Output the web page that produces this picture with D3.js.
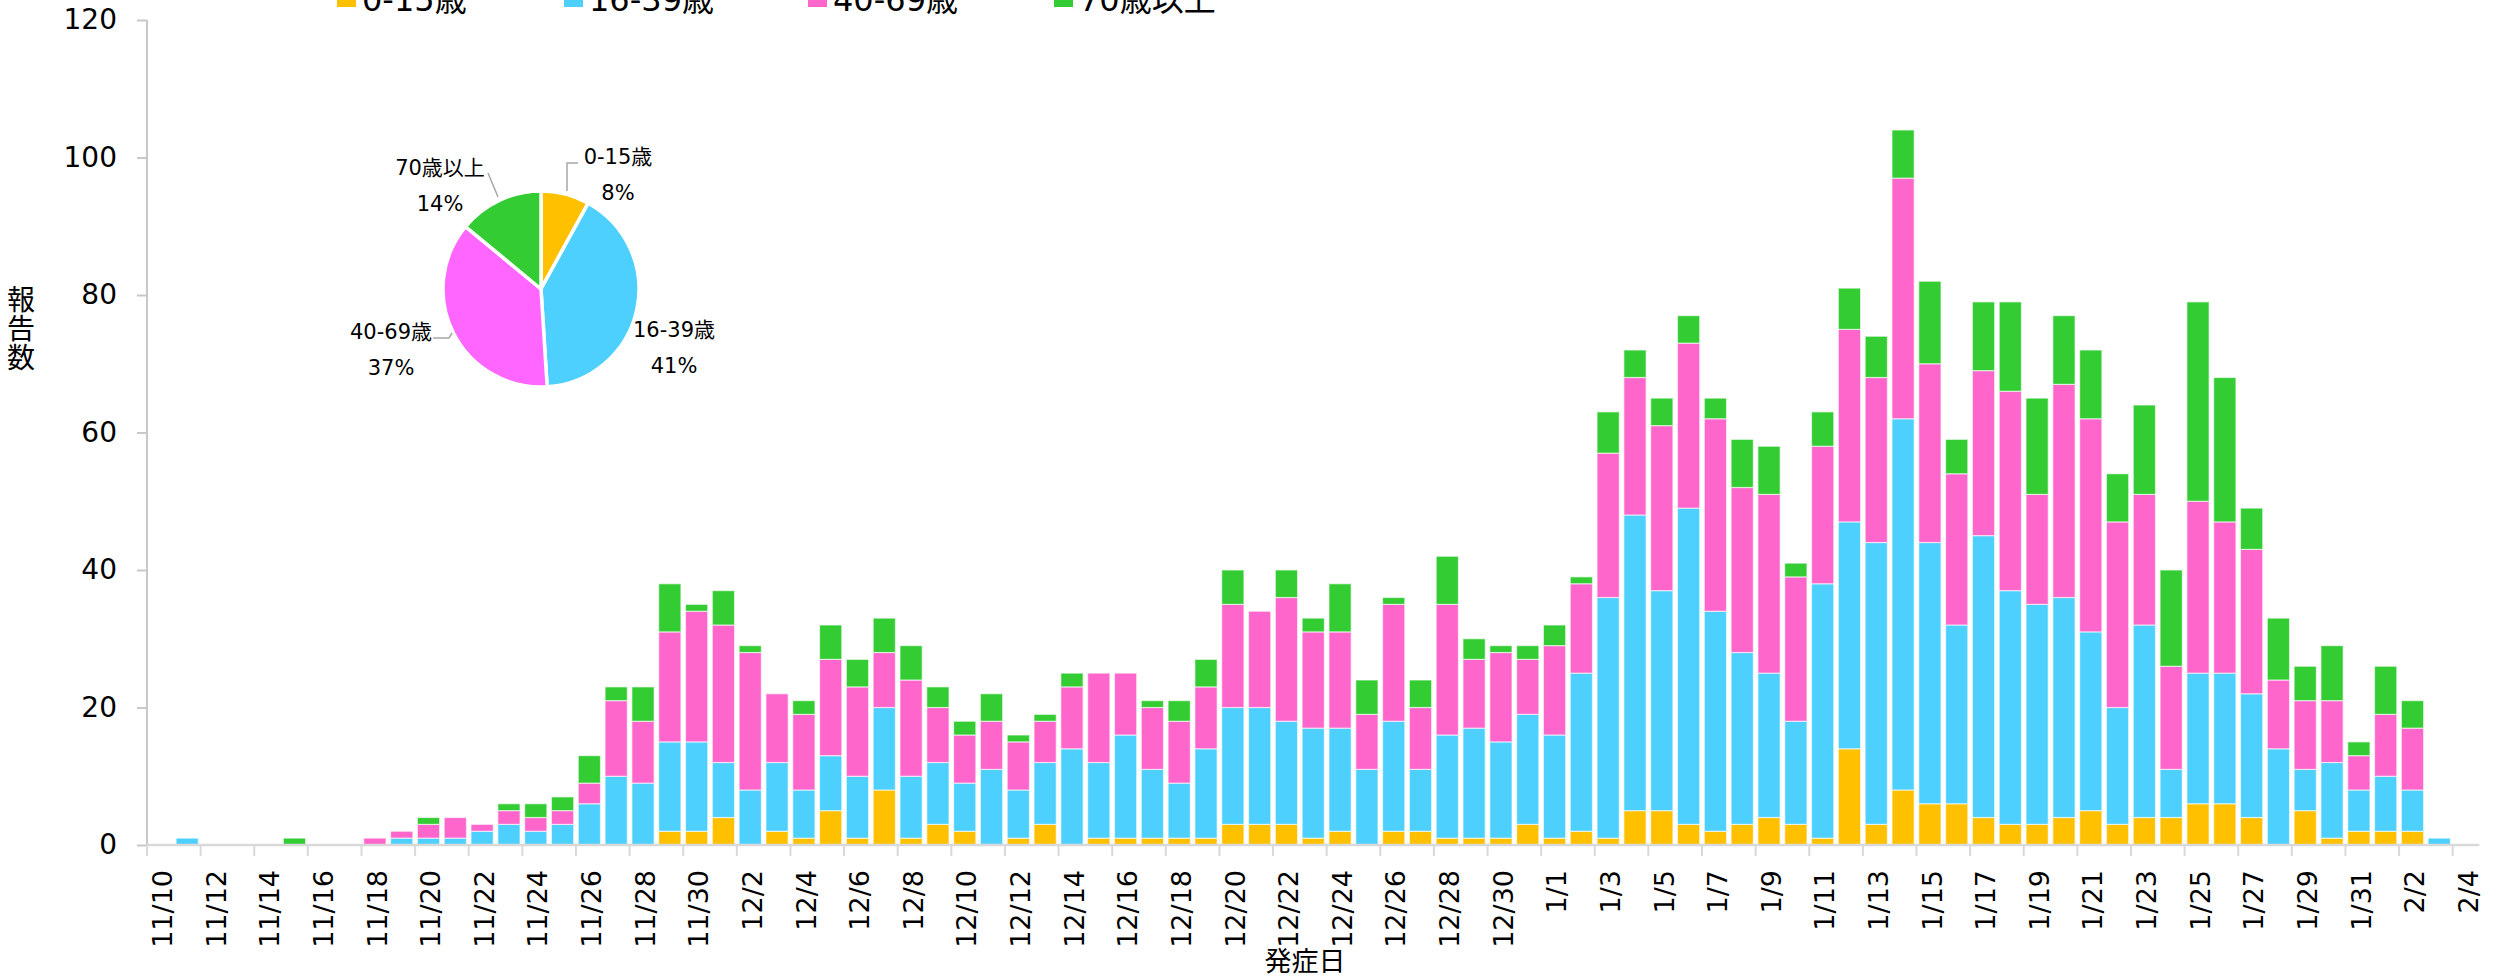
<!DOCTYPE html>
<html>
<head>
<meta charset="utf-8">
<script src="https://cdn.jsdelivr.net/npm/d3@7"></script>
<style>
  body { margin: 0; background: #fff; }
  svg text { font-family: "DejaVu Sans", Verdana, "Noto Sans CJK JP", sans-serif; fill: #000; }
</style>
</head>
<body>
<div id="chart"></div>
<script>
// categories (onset date)
var dates = [
  "11/10","11/11","11/12","11/13","11/14","11/15","11/16","11/17","11/18","11/19",
  "11/20","11/21","11/22","11/23","11/24","11/25","11/26","11/27","11/28","11/29",
  "11/30","12/1","12/2","12/3","12/4","12/5","12/6","12/7","12/8","12/9",
  "12/10","12/11","12/12","12/13","12/14","12/15","12/16","12/17","12/18","12/19",
  "12/20","12/21","12/22","12/23","12/24","12/25","12/26","12/27","12/28","12/29",
  "12/30","12/31","1/1","1/2","1/3","1/4","1/5","1/6","1/7","1/8",
  "1/9","1/10","1/11","1/12","1/13","1/14","1/15","1/16","1/17","1/18",
  "1/19","1/20","1/21","1/22","1/23","1/24","1/25","1/26","1/27","1/28",
  "1/29","1/30","1/31","2/1","2/2","2/3","2/4"
];

var ageGroups = ["0-15歳", "16-39歳", "40-69歳", "70歳以上"];

var age0_15 = [
  0,0,0,0,0,0,0,0,0,0, 0,0,0,0,0,0,0,0,0,2,
  2,4,0,2,1,5,1,8,1,3, 2,0,1,3,0,1,1,1,1,1,
  3,3,3,1,2,0,2,2,1,1, 1,3,1,2,1,5,5,3,2,3,
  4,3,1,14,3,8,6,6,4,3, 3,4,5,3,4,4,6,6,4,0,
  5,1,2,2,2,0,0
];
var age16_39 = [
  0,1,0,0,0,0,0,0,0,1, 1,1,2,3,2,3,6,10,9,13,
  13,8,8,10,7,8,9,12,9,9, 7,11,7,9,14,11,15,10,8,13,
  17,17,15,16,15,11,16,9,15,16, 14,16,15,23,35,43,32,46,32,25,
  21,15,37,33,41,54,38,26,41,34, 32,32,26,17,28,7,19,19,18,14,
  6,11,6,8,6,1,0
];
var age40_69 = [
  0,0,0,0,0,0,0,0,1,1, 2,3,1,2,2,2,3,11,9,16,
  19,20,20,10,11,14,13,8,14,8, 7,7,7,6,9,13,9,9,9,9,
  15,14,18,14,14,8,17,9,19,10, 13,8,13,13,21,20,24,24,28,24,
  26,21,20,28,24,35,26,22,24,29, 16,31,31,27,19,15,25,22,21,10,
  10,9,5,9,9,0,0
];
var age70 = [
  0,0,0,0,0,1,0,0,0,0, 1,0,0,1,2,2,4,2,5,7,
  1,5,1,0,2,5,4,5,5,3, 2,4,1,1,2,0,0,1,3,4,
  5,0,4,2,7,5,1,4,7,3, 1,2,3,1,6,4,4,4,3,7,
  7,2,5,6,6,7,12,5,10,13, 14,10,10,7,13,14,29,21,6,9,
  5,8,2,7,4,0,0
];

// pie: share of each age group (%)
var pieShares = [8, 41, 37, 14];

var yTicks = [0, 20, 40, 60, 80, 100, 120];

var barColors = ["#FFC000", "#4ED0FF", "#FF66CC", "#33CC33"],
pieColors = ["#FFC000", "#4ED0FF", "#FF66FF", "#33CC33"];

var width = 2496,
height = 980,
plotLeft = 147,
plotRight = 2479.5,
plotTop = 20,
plotBottom = 845;

var svg = d3.select("#chart").append("svg")
.attr("width", width)
.attr("height", height);

var table = dates.map(function(d, i){
  return { date: d, a0: age0_15[i], a1: age16_39[i], a2: age40_69[i], a3: age70[i] };
});
var keys = ["a0", "a1", "a2", "a3"];
var series = d3.stack().keys(keys)(table);

var x = d3.scaleBand()
.domain(dates)
.range([plotLeft, plotRight])
.paddingInner(0.17)
.paddingOuter(0.085);

var y = d3.scaleLinear()
.domain([0, 120])
.range([plotBottom, plotTop]);

// y axis
var yAxis = svg.append("g")
.attr("transform", "translate(" + plotLeft + ",0)")
.call(d3.axisLeft(y).tickValues(yTicks).tickSize(10).tickPadding(20));
yAxis.select(".domain").attr("stroke", "#c8c8c8").attr("stroke-width", 2).attr("d", "M0," + plotBottom + "V" + plotTop);
yAxis.selectAll(".tick line").attr("stroke", "#c8c8c8").attr("stroke-width", 2);
yAxis.selectAll(".tick text").style("font-size", "28px");

// bars
var layers = svg.append("g").attr("class", "bars")
.selectAll("g")
.data(series)
.enter()
.append("g")
.attr("fill", function(d, i){ return barColors[i]; });

layers.selectAll("rect")
.data(function(d){ return d.filter(function(s){ return s[1] > s[0]; }); })
.enter()
.append("rect")
.attr("x", function(d){ return x(d.data.date); })
.attr("width", x.bandwidth())
.attr("y", function(d){ return y(d[1]); })
.attr("height", function(d){ return y(d[0]) - y(d[1]); })
.attr("stroke", "#fff")
.attr("stroke-opacity", 0.6)
.attr("stroke-width", 1.2);

// x axis (ticks between categories, every 2 days)
var xAxis = svg.append("g").attr("class", "x-axis");
xAxis.append("line")
.attr("x1", plotLeft).attr("x2", plotRight)
.attr("y1", plotBottom).attr("y2", plotBottom)
.attr("stroke", "#d9d9d9").attr("stroke-width", 2.5);

var labelled = dates.filter(function(d, i){ return i % 2 === 0; });

xAxis.selectAll(".xtick")
.data(labelled)
.enter()
.append("line")
.attr("class", "xtick")
.attr("x1", function(d){ return x(d) + x.bandwidth() / 2 - x.step() / 2; })
.attr("x2", function(d){ return x(d) + x.bandwidth() / 2 - x.step() / 2; })
.attr("y1", plotBottom).attr("y2", plotBottom + 11)
.attr("stroke", "#d9d9d9").attr("stroke-width", 2);

xAxis.selectAll(".xlabel")
.data(labelled)
.enter()
.append("text")
.attr("class", "xlabel")
.attr("transform", function(d){
  return "translate(" + (x(d) + x.bandwidth() / 2 + 2) + "," + (plotBottom + 25) + ") rotate(-90)";
})
.attr("dy", "0.36em")
.attr("text-anchor", "end")
.style("font-size", "27px")
.text(function(d){ return d; });

// axis titles
svg.append("text")
.attr("x", 1305)
.attr("y", 971)
.attr("text-anchor", "middle")
.style("font-size", "27px")
.text("発症日");

var yTitle = svg.append("text")
.attr("x", 21)
.attr("y", 310)
.attr("text-anchor", "middle")
.style("font-size", "28px");
yTitle.selectAll("tspan")
.data("報告数".split(""))
.enter()
.append("tspan")
.attr("x", 21)
.attr("dy", function(d, i){ return i === 0 ? 0 : 29; })
.text(function(d){ return d; });

// legend (cut at the top like the original)
var legendX = [337, 564, 808, 1054];
var legend = svg.append("g").attr("class", "legend")
.selectAll("g")
.data(ageGroups)
.enter()
.append("g")
.attr("transform", function(d, i){ return "translate(" + legendX[i] + ",0)"; });
legend.append("rect")
.attr("x", 0).attr("y", -12)
.attr("width", 19).attr("height", 19)
.attr("fill", function(d, i){ return barColors[i]; });
legend.append("text")
.attr("x", 25).attr("y", 11)
.style("font-size", "32px")
.text(function(d){ return d; });

// pie
var cx = 541, cy = 289, r = 98;
var pie = d3.pie().sort(null).value(function(d){ return d; });
var arc = d3.arc().innerRadius(0).outerRadius(r);
var pieG = svg.append("g").attr("transform", "translate(" + cx + "," + cy + ")");

pieG.selectAll("path")
.data(pie(pieShares))
.enter()
.append("path")
.attr("d", arc)
.attr("fill", function(d, i){ return pieColors[i]; })
.attr("stroke", "#fff")
.attr("stroke-width", 3.5)
.attr("stroke-linejoin", "round");

// label anchors relative to pie centre, and leader lines
var pieLabelPos = [[77, -115], [133, 58], [-150, 60], [-101, -104]];
var leaders = [
  [[26, -98], [26, -126], [37, -126]],
  null,
  [[-108, 49], [-92, 49], [-89, 44]],
  [[-53, -116], [-43, -92]]
];

pieG.selectAll(".leader")
.data(leaders.filter(function(d){ return d; }))
.enter()
.append("path")
.attr("class", "leader")
.attr("d", d3.line())
.attr("fill", "none")
.attr("stroke", "#a6a6a6")
.attr("stroke-width", 1.5);

var pieLabels = pieG.selectAll(".plabel")
.data(pie(pieShares))
.enter()
.append("text")
.attr("class", "plabel")
.attr("text-anchor", "middle")
.style("font-size", "21px")
.attr("transform", function(d, i){ return "translate(" + pieLabelPos[i] + ")"; });
pieLabels.append("tspan")
.attr("x", 0).attr("y", -10)
.text(function(d, i){ return ageGroups[i]; });
pieLabels.append("tspan")
.attr("x", 0).attr("y", 26)
.text(function(d){ return d.data + "%"; });
</script>
</body>
</html>
